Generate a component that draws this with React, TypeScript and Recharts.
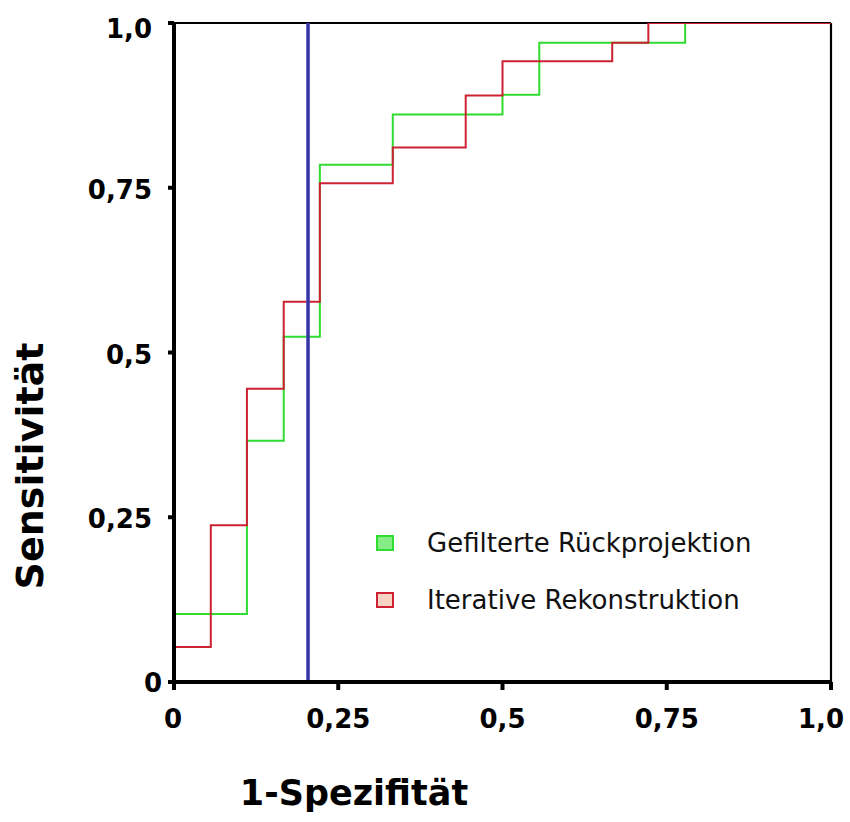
import React from 'react';
import { LineChart, Line, XAxis, YAxis, ReferenceLine, Legend, Label, CartesianGrid } from 'recharts';

// Gefilterte Rückprojektion (green) step points
const fbpX = [0, 0.111, 0.167, 0.222, 0.333, 0.5, 0.556, 0.778, 1];
const fbpY = [0.103, 0.366, 0.524, 0.785, 0.861, 0.891, 0.97, 1, 1];
// Iterative Rekonstruktion (red) step points
const irX = [0, 0.056, 0.111, 0.167, 0.222, 0.333, 0.444, 0.5, 0.667, 0.722, 1];
const irY = [0.053, 0.238, 0.445, 0.577, 0.757, 0.811, 0.89, 0.942, 0.97, 1, 1];

const axisTicks = [0, 0.25, 0.5, 0.75, 1];
const tickLabels = ['0', '0,25', '0,5', '0,75', '1,0'];
const frameValues = [1];
const cutoffX = 0.204;
const seriesNames = ['Gefilterte Rückprojektion', 'Iterative Rekonstruktion'];
const xTitle = '1-Spezifität';
const yTitle = 'Sensitivität';

const fbpData = fbpX.map((x, i) => ({ x, y: fbpY[i] }));
const irData = irX.map((x, i) => ({ x, y: irY[i] }));

const GREEN = '#2fdc2f';
const RED = '#cc2233';
const BLUE = '#3535a8';
const legendFills = ['#86ec86', '#f8d4c4'];

const labelFor = (v: number) => tickLabels[axisTicks.indexOf(v)] ?? String(v);

const boldFont = 'DejaVu Sans';

const XTick = (props: any) => {
  const { x, y, payload } = props;
  const v = payload.value;
  const dx = v === 1 ? -10 : v === 0 ? -1 : 0;
  return (
    <text x={x + dx} y={y + 36} textAnchor="middle" fontFamily={boldFont} fontWeight="bold" fontSize={26} fill="#000">
      {labelFor(v)}
    </text>
  );
};

const YTick = (props: any) => {
  const { x, y, payload } = props;
  const v = payload.value;
  const dx = v === 0 ? -4 : -14;
  const dy = v === 1 ? 15 : v === 0 ? 10 : 11;
  return (
    <text x={x + dx} y={y + dy} textAnchor="end" fontFamily={boldFont} fontWeight="bold" fontSize={26} fill="#000">
      {labelFor(v)}
    </text>
  );
};

const renderLegend = (props: any) => {
  const payload = props.payload || [];
  return (
    <div>
      {payload.map((entry: any, i: number) => (
        <div key={i} style={{ display: 'flex', alignItems: 'center', height: 57 }}>
          <div
            style={{
              width: 14,
              height: 12,
              border: `2px solid ${entry.color}`,
              background: legendFills[i],
              marginLeft: 6,
              marginRight: 33,
              boxSizing: 'content-box',
            }}
          />
          <span style={{ fontFamily: 'DejaVu Sans', fontSize: 26, color: '#111', whiteSpace: 'nowrap' }}>
            {entry.value}
          </span>
        </div>
      ))}
    </div>
  );
};

export default function App() {
  return (
    <div style={{ position: 'absolute', left: 0, top: 0, width: 850, height: 822, background: '#fff' }}>
      <LineChart width={850} height={822} margin={{ top: 23, right: 19, bottom: 0, left: 0 }}>
        <CartesianGrid
          horizontalValues={frameValues}
          verticalValues={frameValues}
          stroke="#000"
          strokeWidth={2.2}
          fill="none"
        />
        <XAxis
          dataKey="x"
          type="number"
          domain={[0, 1]}
          ticks={axisTicks}
          height={140}
          axisLine={{ stroke: '#000', strokeWidth: 4 }}
          tickLine={{ stroke: '#000', strokeWidth: 4 }}
          tickSize={8}
          tickMargin={2}
          tick={<XTick />}
          allowDataOverflow
        >
          <Label
            content={(p: any) => {
              const vb = p.viewBox || { x: 174, y: 682 };
              return (
                <text x={vb.x + 180} y={vb.y + 123} textAnchor="middle" fontFamily={boldFont} fontWeight="bold" fontSize={35} fill="#000">
                  {xTitle}
                </text>
              );
            }}
          />
        </XAxis>
        <YAxis
          dataKey="y"
          type="number"
          domain={[0, 1]}
          ticks={axisTicks}
          width={174}
          axisLine={{ stroke: '#000', strokeWidth: 4 }}
          tickLine={{ stroke: '#000', strokeWidth: 4 }}
          tickSize={6}
          tickMargin={2}
          tick={<YTick />}
          allowDataOverflow
        >
          <Label
            content={(p: any) => {
              const vb = p.viewBox || { x: 0, y: 23 };
              const cx = vb.x + 43;
              const cy = vb.y + 443;
              return (
                <text
                  x={cx}
                  y={cy}
                  transform={`rotate(-90 ${cx} ${cy})`}
                  textAnchor="middle"
                  fontFamily={boldFont}
                  fontWeight="bold"
                  fontSize={38}
                  fill="#000"
                >
                  {yTitle}
                </text>
              );
            }}
          />
        </YAxis>
        <Line
          data={fbpData}
          dataKey="y"
          name={seriesNames[0]}
          type="stepAfter"
          stroke={GREEN}
          strokeWidth={2}
          dot={false}
          activeDot={false}
          isAnimationActive={false}
        />
        <Line
          data={irData}
          dataKey="y"
          name={seriesNames[1]}
          type="stepAfter"
          stroke={RED}
          strokeWidth={2}
          dot={false}
          activeDot={false}
          isAnimationActive={false}
        />
        <ReferenceLine x={cutoffX} stroke={BLUE} strokeWidth={3.5} />
        <Legend
          layout="horizontal"
          verticalAlign="middle"
          align="center"
          content={renderLegend}
          wrapperStyle={{ position: 'absolute', left: 370, top: 514, width: 440 }}
        />
      </LineChart>
    </div>
  );
}
